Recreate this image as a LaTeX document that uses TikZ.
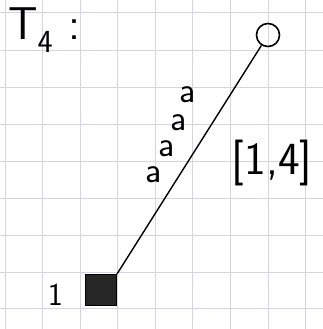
\documentclass[tikz,border=0pt]{standalone}
\usepackage{fontspec}
\usepackage{tikz}
\usetikzlibrary{positioning}

\begin{document}
\begin{tikzpicture}[x=1pt, y=-1pt, font=\sffamily,
  paper/.style={draw=blue!10!gray!30, line width=0.6pt},
  leaf/.style={circle, draw, line width=1.6pt, minimum size=23pt, inner sep=0pt},
  root/.style={rectangle, draw, fill=black!85, line width=1pt, minimum size=31pt, inner sep=0pt},
  edgelab/.style={font=\sffamily\fontsize{36}{36}\selectfont, inner sep=0pt},
  hand/.style={font=\sffamily\fontsize{46}{46}\selectfont, inner sep=0pt}]
\useasboundingbox (0,0) rectangle (323,329);
% squared paper
\foreach \gx in {5,42,80,117,155,192,230,268,305}
  \draw[paper] (\gx,0) -- (\gx,329);
\foreach \gy in {12,50,87,124,161,198,235,272,308}
  \draw[paper] (0,\gy) -- (323,\gy);
% tree
\node[hand, anchor=north west] (title) at (8,8) {T\textsubscript{4}\,\,:};
\node[leaf] (top) at (268,35) {};
\node[root] (bot) at (101,290) {};
\node[hand, font=\sffamily\fontsize{32}{32}\selectfont, left=22pt of bot.south west, anchor=south east] (one) {1};
\draw[line width=1.4pt] (bot.north east) -- (top);
\node[edgelab] (a1) at (188,95) {a};
\node[edgelab] (a2) at (179,123) {a};
\node[edgelab] (a3) at (167,149) {a};
\node[edgelab] (a4) at (154,175) {a};
\node[hand] (lab) at (272,163) {[1,4]};
\end{tikzpicture}
\end{document}
